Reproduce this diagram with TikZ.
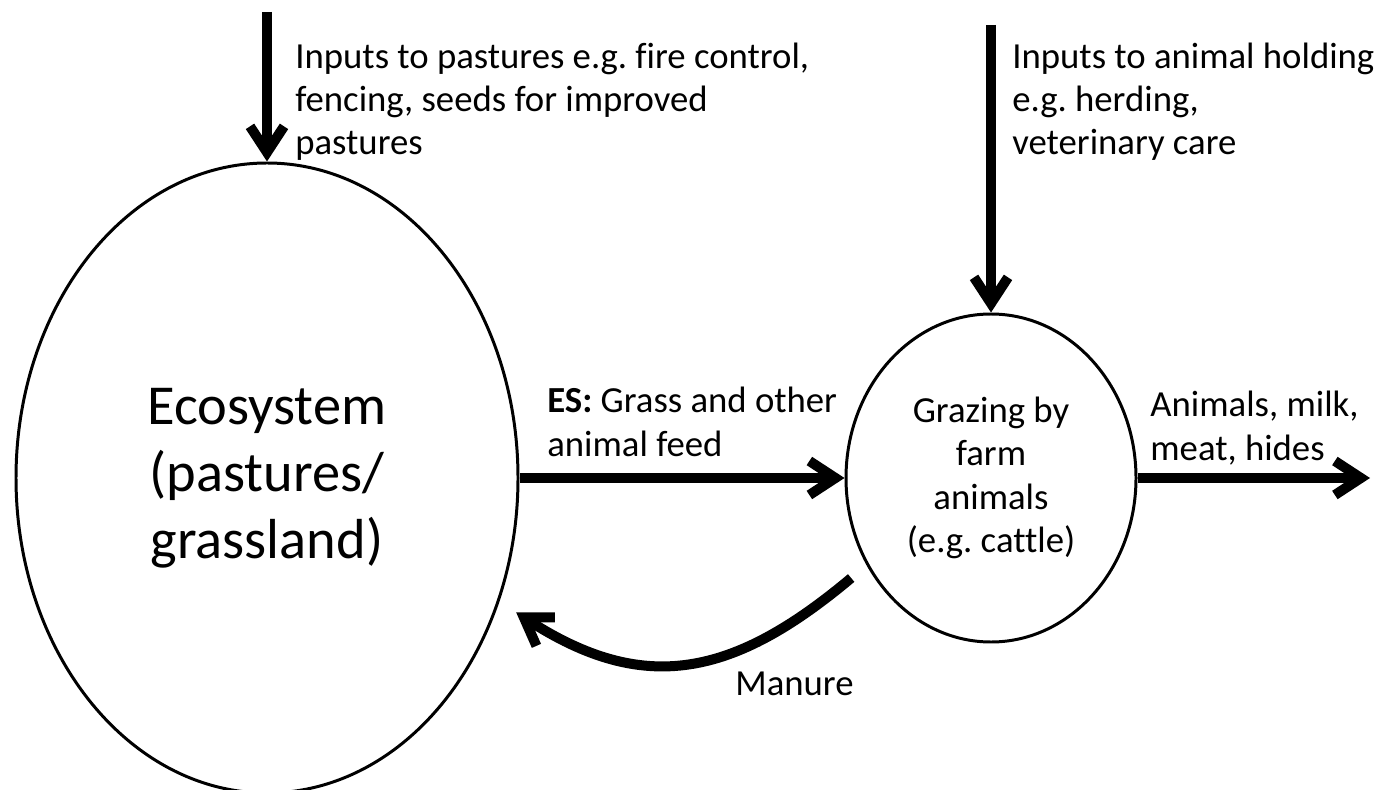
\documentclass[tikz,border=0pt]{standalone}
\usepackage{fontspec}
\setmainfont{Carlito}[Ligatures=NoCommon]
\usetikzlibrary{arrows.meta,shapes.geometric}
\frenchspacing

\begin{document}
\begin{tikzpicture}[x=1cm, y=1cm, >={Straight Barb[length=0.52cm, width=0.68cm]},
	flow/.style={->, line width=0.2cm},
	pool/.style={draw, ellipse, line width=1.7pt, inner sep=0pt, align=center},
	note/.style={align=left, inner sep=0pt, anchor=base west, font=\fontsize{20.9}{24.7}\selectfont}]
	\useasboundingbox (0,0) rectangle (27.54,15.78);

	\node [pool, minimum width=10.04cm, minimum height=12.6cm, font=\fontsize{32.1}{38.1}\selectfont] (eco) at (5.34,6.22) {Ecosystem\\(pastures/\\grassland)};
	\node [pool, minimum width=5.8cm, minimum height=6.56cm, font=\fontsize{20.9}{24.6}\selectfont] (graze) at (19.82,6.22) {Grazing by\\farm\\animals\\(e.g. cattle)};

	\coordinate (pastin) at (5.34,15.54);
	\coordinate (herdin) at (19.82,15.28);
	\coordinate (prodout) at (27.4,6.22);

	% base anchor sits on the last line
	\node [note] (pastnote) at (5.9,12.68) {Inputs to pastures e.g. fire control,\\fencing, seeds for improved\\pastures};
	\node [note] (herdnote) at (20.24,12.68) {Inputs to animal holding\\e.g. herding,\\veterinary care};
	\node [note] (feednote) at (10.94,6.66) {\textbf{ES:} Grass and other\\animal feed};
	\node [note] (prodnote) at (23.0,6.58) {Animals, milk,\\meat, hides};
	\node [note] (manurenote) at (14.7,1.88) {Manure};

	\draw [flow] (pastin) -- (eco.north);
	\draw [flow] (herdin) -- (graze.north);
	\draw [flow] (eco.east) -- (graze.west);
	\draw [flow] (graze.east) -- (prodout);
	\draw [flow, shorten <=0.4cm, shorten >=0.4cm] (graze.215) to [out=220, in=-33, looseness=1.2] (eco.-28);

\end{tikzpicture}
\end{document}
